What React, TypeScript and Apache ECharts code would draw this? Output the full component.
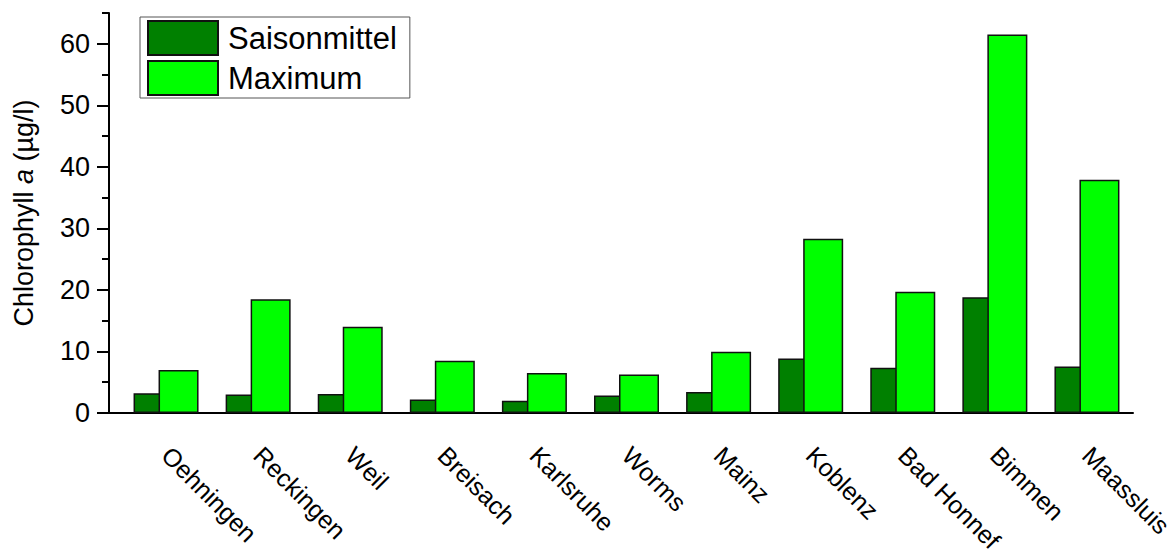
import React, { useEffect, useRef } from 'react';
import * as echarts from 'echarts';

const categories = ['Oehningen', 'Reckingen', 'Weil', 'Breisach', 'Karlsruhe', 'Worms', 'Mainz', 'Koblenz', 'Bad Honnef', 'Bimmen', 'Maassluis'];
const saisonmittel = [3.2, 3.0, 3.1, 2.2, 2.0, 2.85, 3.4, 8.85, 7.35, 18.8, 7.55];
const maximum = [7.0, 18.5, 14.0, 8.5, 6.5, 6.25, 9.95, 28.3, 19.7, 61.5, 37.9];
const yMajorTicks = [0, 10, 20, 30, 40, 50, 60];
const yMinorTicks = [5, 15, 25, 35, 45, 55, 65];
const seriesNames = ['Saisonmittel', 'Maximum'];

const FONT = '"Liberation Sans", Arial, sans-serif';

export default function App() {
  const ref = useRef<HTMLDivElement>(null);
  useEffect(() => {
    if (!ref.current) return;
    const chart = echarts.init(ref.current, undefined, { renderer: 'svg' });
    const axisLineStyle = { color: '#000', width: 2 };
    chart.setOption({
      animation: false,
      backgroundColor: '#fff',
      grid: { left: 120, right: 43, top: 13, bottom: 136, containLabel: false, outerBoundsMode: 'none' },
      legend: {
        orient: 'vertical',
        left: 140,
        top: 17,
        itemWidth: 70,
        itemHeight: 34,
        itemGap: 4,
        padding: [3, 13, 2, 7],
        borderColor: '#555',
        borderWidth: 1,
        textStyle: { fontSize: 31, lineHeight: 34, fontFamily: FONT, color: '#000', padding: [0, 0, 0, 5] },
        data: seriesNames.map((n) => ({ name: n, icon: 'rect' })),
      },
      xAxis: {
        type: 'category',
        data: categories,
        axisLine: { lineStyle: axisLineStyle },
        axisTick: { alignWithLabel: true, length: 13, lineStyle: { color: '#000', width: 2 } },
        axisLabel: { rotate: -45, margin: 38, fontSize: 25, color: '#000', fontFamily: FONT, interval: 0 },
      },
      yAxis: [
        {
          type: 'value',
          position: 'left',
          min: 0,
          max: 65,
          offset: 11,
          name: '{n|Chlorophyll }{i|a}{n| (µg/l)}',
          nameLocation: 'middle',
          nameGap: 72,
          nameTextStyle: {
            rich: {
              n: { fontSize: 27, fontFamily: FONT, color: '#000' },
              i: { fontSize: 27, fontFamily: FONT, color: '#000', fontStyle: 'italic' },
            },
          },
          axisLine: { show: true, lineStyle: axisLineStyle },
          axisTick: { show: true, customValues: yMajorTicks, length: 12, lineStyle: { color: '#000', width: 2 } },
          axisLabel: { customValues: yMajorTicks, margin: 19, fontSize: 27, color: '#000', fontFamily: FONT },
          splitLine: { show: false },
        },
        {
          type: 'value',
          position: 'left',
          min: 0,
          max: 65,
          offset: 11,
          axisLine: { show: false },
          axisTick: { show: true, customValues: yMinorTicks, length: 7, lineStyle: { color: '#000', width: 2 } },
          axisLabel: { show: false },
          splitLine: { show: false },
        },
      ],
      graphic: [
        { type: 'line', shape: { x1: 109, y1: 413, x2: 121, y2: 413 }, style: { stroke: '#000', lineWidth: 2 } },
      ],
      series: [
        {
          name: seriesNames[0],
          type: 'bar',
          data: saisonmittel,
          barWidth: 40,
          barGap: '-37.5%',
          itemStyle: { color: '#008000', borderColor: '#111', borderWidth: 1.5 },
        },
        {
          name: seriesNames[1],
          type: 'bar',
          data: maximum,
          barWidth: 40,
          barGap: '-37.5%',
          itemStyle: { color: '#00FF00', borderColor: '#111', borderWidth: 1.5 },
        },
      ],
    });
    return () => chart.dispose();
  }, []);
  return <div ref={ref} style={{ position: 'absolute', left: 0, top: 0, width: 1176, height: 549 }} />;
}
